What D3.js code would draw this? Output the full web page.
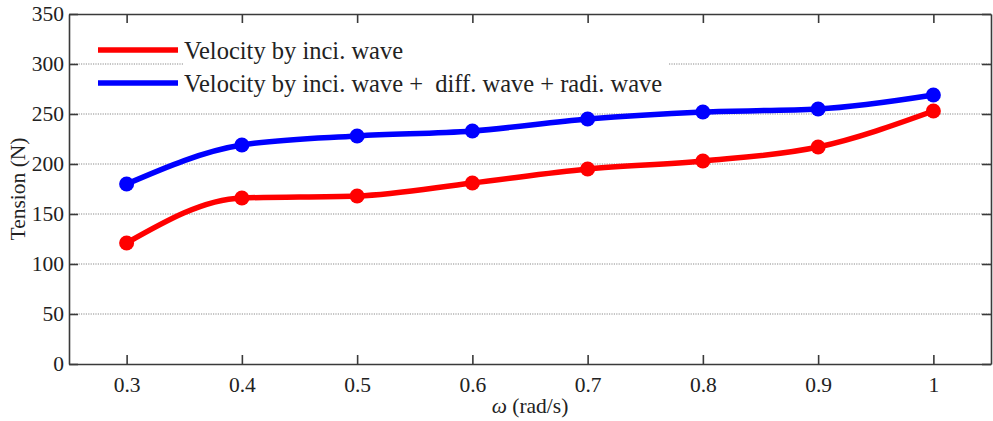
<!DOCTYPE html>
<html>
<head>
<meta charset="utf-8">
<script src="https://cdn.jsdelivr.net/npm/d3@7/dist/d3.min.js"></script>
<style>
  html, body { margin: 0; padding: 0; background: #fff; }
  svg { display: block; }
  svg text { font-family: 'Liberation Serif', 'Times New Roman', Times, serif; white-space: pre; }
</style>
</head>
<body>
<svg id="chart" width="993" height="421"></svg>
<script>
// Frequencies (rad/s)
const omega = [0.3, 0.4, 0.5, 0.6, 0.7, 0.8, 0.9, 1.0];
// Tension (N) with incident-wave velocity only
const tensionInci = [121, 166, 168, 181, 195, 203, 217, 253];
// Tension (N) with incident + diffracted + radiated wave velocity
const tensionTotal = [180, 219, 228, 233, 245, 252, 255, 269];
const seriesNames = [
  "Velocity by inci. wave",
  "Velocity by inci. wave +  diff. wave + radi. wave"
];
const seriesColors = ["#ff0000", "#0000ff"];
const xTicks = [0.3, 0.4, 0.5, 0.6, 0.7, 0.8, 0.9, 1.0];
const yTicks = [0, 50, 100, 150, 200, 250, 300, 350];

const W = 993, H = 421;
const m = { left: 69, right: 2, top: 14, bottom: 57 };
const FONT = "'Liberation Serif', 'Times New Roman', Times, serif";
const svg = d3.select("#chart");

const x = d3.scaleLinear().domain([0.25, 1.05]).range([m.left, W - m.right]);
const y = d3.scaleLinear().domain([0, 350]).range([H - m.bottom, m.top]);

const axisColor = "#3a3a3a";
const tickLen = 9;

// dotted horizontal grid
svg.append("g")
  .selectAll("line")
  .data(yTicks.filter(t => t > 0 && t < 350))
  .join("line")
  .attr("x1", x.range()[0]).attr("x2", x.range()[1])
  .attr("y1", d => y(d)).attr("y2", d => y(d))
  .attr("stroke", "#8a8a8a")
  .attr("stroke-width", 1)
  .attr("stroke-dasharray", "1.2,1.2");

// axes (ticks point inward, mirrored on the top and right)
const fmtX = d => d === 1 ? "1" : d3.format(".1f")(d);
const axisB = d3.axisBottom(x).tickValues(xTicks).tickSizeInner(-tickLen).tickSizeOuter(0).tickPadding(13).tickFormat(fmtX);
const axisT = d3.axisTop(x).tickValues(xTicks).tickSizeInner(-tickLen).tickSizeOuter(0).tickFormat("");
const axisL = d3.axisLeft(y).tickValues(yTicks).tickSizeInner(-tickLen).tickSizeOuter(0).tickPadding(5);
const axisR = d3.axisRight(y).tickValues(yTicks).tickSizeInner(-tickLen).tickSizeOuter(0).tickFormat("");

function styleAxis(g) {
  g.attr("font-family", FONT).attr("font-size", 21.5);
  g.selectAll("path, line").attr("stroke", axisColor).attr("stroke-width", 1.6);
  g.selectAll("text").attr("fill", "#222");
}
svg.append("g").attr("transform", `translate(0,${y(0)})`).call(axisB).call(styleAxis);
svg.append("g").attr("transform", `translate(0,${y(350)})`).call(axisT).call(styleAxis);
svg.append("g").attr("transform", `translate(${x(0.25)},0)`).call(axisL).call(styleAxis);
svg.append("g").attr("transform", `translate(${x(1.05)},0)`).call(axisR).call(styleAxis);

// axis titles
svg.append("text")
  .attr("transform", `translate(25,${(y(0) + y(350)) / 2}) rotate(-90)`)
  .attr("text-anchor", "middle")
  .attr("fill", "#222")
  .attr("font-family", FONT)
  .attr("font-size", 21.5)
  .text("Tension (N)");

const xt = svg.append("text")
  .attr("x", (x(0.25) + x(1.05)) / 2)
  .attr("y", 413)
  .attr("text-anchor", "middle")
  .attr("fill", "#222")
  .attr("font-family", FONT)
  .attr("font-size", 21.5);
xt.append("tspan").attr("font-style", "italic").text("ω");
xt.append("tspan").text(" (rad/s)");

// series
const series = [tensionInci, tensionTotal];
const line = d3.line()
  .x((d, i) => x(omega[i]))
  .y(d => y(d))
  .curve(d3.curveMonotoneX);

series.forEach((vals, k) => {
  svg.append("path")
    .datum(vals)
    .attr("d", line)
    .attr("fill", "none")
    .attr("stroke", seriesColors[k])
    .attr("stroke-width", 5.5)
    .attr("stroke-linejoin", "round");
  svg.append("g")
    .selectAll("circle")
    .data(vals)
    .join("circle")
    .attr("cx", (d, i) => x(omega[i]))
    .attr("cy", d => y(d))
    .attr("r", 7.5)
    .attr("fill", seriesColors[k]);
});

// legend
const legend = svg.append("g");
const legY = [50, 83];
legend.append("rect")
  .attr("x", 183).attr("y", 34)
  .attr("width", 485).attr("height", 64)
  .attr("fill", "#fff");
seriesNames.forEach((name, k) => {
  legend.append("line")
    .attr("x1", 98).attr("x2", 178)
    .attr("y1", legY[k]).attr("y2", legY[k])
    .attr("stroke", seriesColors[k])
    .attr("stroke-width", 5.5);
  legend.append("text")
    .attr("x", 184).attr("y", legY[k])
    .attr("dy", "0.36em")
    .attr("fill", "#222")
    .attr("font-family", FONT)
    .attr("font-size", 24.5)
    .attr("xml:space", "preserve")
    .text(name);
});
</script>
</body>
</html>
